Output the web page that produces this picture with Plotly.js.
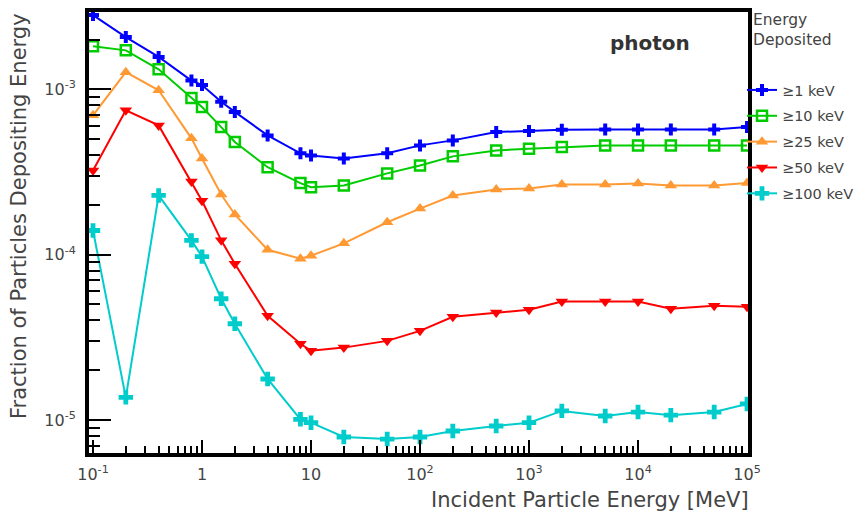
<!DOCTYPE html>
<html>
<head>
<meta charset="utf-8">
<script src="https://cdn.plot.ly/plotly-3.0.1.min.js"></script>
<style>html,body{margin:0;padding:0;background:#fff;}#chart{width:858px;height:515px;}</style>
</head>
<body>
<div id="chart"></div>
<script>
// Incident photon energy [MeV]
const energies = [0.1, 0.2, 0.4, 0.8, 1, 1.5, 2, 4, 8, 10, 20, 50, 100, 200, 500, 1000, 2000, 5000, 10000, 20000, 50000, 100000];
// Fraction of particles depositing energy above threshold
const dep1keV   = [2.81e-3, 2.07e-3, 1.57e-3, 1.13e-3, 1.06e-3, 8.4e-4, 7.3e-4, 5.26e-4, 4.10e-4, 3.98e-4, 3.82e-4, 4.11e-4, 4.58e-4, 4.91e-4, 5.51e-4, 5.59e-4, 5.70e-4, 5.72e-4, 5.72e-4, 5.72e-4, 5.72e-4, 5.91e-4];
const dep10keV  = [1.82e-3, 1.72e-3, 1.32e-3, 8.85e-4, 7.81e-4, 5.91e-4, 4.80e-4, 3.38e-4, 2.71e-4, 2.56e-4, 2.62e-4, 3.10e-4, 3.46e-4, 3.93e-4, 4.27e-4, 4.37e-4, 4.47e-4, 4.58e-4, 4.58e-4, 4.58e-4, 4.58e-4, 4.58e-4];
const dep25keV  = [6.96e-4, 1.27e-3, 9.86e-4, 5.05e-4, 3.82e-4, 2.31e-4, 1.75e-4, 1.07e-4, 9.46e-5, 9.86e-5, 1.17e-4, 1.57e-4, 1.90e-4, 2.28e-4, 2.48e-4, 2.51e-4, 2.66e-4, 2.66e-4, 2.69e-4, 2.62e-4, 2.62e-4, 2.71e-4];
const dep50keV  = [3.23e-4, 7.46e-4, 6.05e-4, 2.77e-4, 2.12e-4, 1.22e-4, 8.82e-5, 4.27e-5, 2.89e-5, 2.62e-5, 2.74e-5, 3.01e-5, 3.46e-5, 4.21e-5, 4.47e-5, 4.64e-5, 5.21e-5, 5.21e-5, 5.21e-5, 4.71e-5, 4.91e-5, 4.84e-5];
const dep100keV = [1.40e-4, 1.37e-5, 2.28e-4, 1.22e-4, 9.73e-5, 5.41e-5, 3.82e-5, 1.77e-5, 1.01e-5, 9.63e-6, 7.89e-6, 7.67e-6, 7.89e-6, 8.58e-6, 9.2e-6, 9.63e-6, 1.135e-5, 1.057e-5, 1.117e-5, 1.07e-5, 1.117e-5, 1.25e-5];

const seriesNames = ["\u22651 keV", "\u226510 keV", "\u226525 keV", "\u226550 keV", "\u2265100 keV"];

const xTickVals = [0.1, 1, 10, 100, 1000, 10000, 100000];
const xTickText = ["10<sup>-1</sup>", "1", "10", "10<sup>2</sup>", "10<sup>3</sup>", "10<sup>4</sup>", "10<sup>5</sup>"];
const yTickVals = [1e-5, 1e-4, 1e-3];
const yTickText = ["10<sup>-5</sup>", "10<sup>-4</sup>", "10<sup>-3</sup>"];

// minor tick positions (2..9 in each decade)
function minorTicks(e0, e1) {
  const out = [];
  for (let e = e0; e <= e1; e++) for (let m = 2; m <= 9; m++) out.push(m * Math.pow(10, e));
  return out;
}

const styles = [
  {color: "#0000ff", symbol: "cross", size: 10},
  {color: "#00cc00", symbol: "square-open", size: 10},
  {color: "#ff9933", symbol: "triangle-up", size: 11},
  {color: "#ff0000", symbol: "triangle-down", size: 11},
  {color: "#00cccc", symbol: "cross", size: 12}
];
const ys = [dep1keV, dep10keV, dep25keV, dep50keV, dep100keV];

const traces = ys.map((y, i) => ({
  type: "scatter",
  mode: "lines+markers",
  x: energies,
  y: y,
  name: seriesNames[i],
  legendgroup: "g" + i,
  line: {color: styles[i].color, width: 2},
  marker: {
    color: styles[i].color,
    symbol: styles[i].symbol,
    size: styles[i].size,
    line: {color: styles[i].color, width: styles[i].symbol === "square-open" ? 2.5 : 0}
  }
}));

const font = {family: "DejaVu Sans, Arial, sans-serif", color: "#444"};
const W = 858, H = 515;
const L = 89, R = 748, T = 12, B = 453;
const px = v => (v - L) / (R - L);
const py = v => (B - v) / (B - T);

const layout = {
  width: W, height: H,
  margin: {l: L, r: W - R, t: T, b: H - B, pad: 0, autoexpand: false},
  paper_bgcolor: "#fff",
  plot_bgcolor: "#fff",
  font: Object.assign({size: 16}, font),
  showlegend: true,
  legend: {
    xref: "container", yref: "container",
    x: 742 / W, xanchor: "left",
    y: 1 - 74 / H, yanchor: "top",
    bgcolor: "rgba(0,0,0,0)",
    font: Object.assign({size: 14.5}, font),
    tracegroupgap: 4,
    traceorder: "grouped",
    itemwidth: 30
  },
  xaxis: {
    type: "log",
    range: [-1.0367, 5.009],
    showgrid: false, zeroline: false,
    showline: true, linecolor: "#000", linewidth: 4, mirror: true,
    ticks: "inside", ticklen: 13, tickwidth: 2, tickcolor: "#000",
    tickmode: "array", tickvals: xTickVals, ticktext: xTickText,
    tickfont: Object.assign({size: 16}, font),
    ticklabelstandoff: 4,
    minor: {tickmode: "array", tickvals: minorTicks(-1, 4), ticks: "inside", ticklen: 7, tickwidth: 2, tickcolor: "#000", showgrid: false}
  },
  yaxis: {
    type: "log",
    range: [-5.1996, -2.5325],
    showgrid: false, zeroline: false,
    showline: true, linecolor: "#000", linewidth: 4, mirror: true,
    ticks: "inside", ticklen: 22, tickwidth: 2, tickcolor: "#000",
    tickmode: "array", tickvals: yTickVals, ticktext: yTickText,
    tickfont: Object.assign({size: 16}, font),
    ticklabelstandoff: 6,
    minor: {tickmode: "array", tickvals: minorTicks(-6, -3), ticks: "inside", ticklen: 11, tickwidth: 2, tickcolor: "#000", showgrid: false}
  },
  annotations: [
    {text: "Incident Particle Energy [MeV]", xref: "paper", yref: "paper", x: px(751), y: py(500), xanchor: "right", yanchor: "middle", showarrow: false, font: Object.assign({size: 21}, font)},
    {text: "Fraction of Particles Depositing Energy", xref: "paper", yref: "paper", x: px(19), y: py(11), xanchor: "center", yanchor: "top", textangle: -90, showarrow: false, font: Object.assign({size: 21}, font)},
    {text: "<b>photon</b>", xref: "paper", yref: "paper", x: px(650), y: py(43), xanchor: "center", yanchor: "middle", showarrow: false, font: Object.assign({size: 20}, font, {color: "#333"})},
    {text: "Energy<br>Deposited", xref: "paper", yref: "paper", x: px(751), y: py(9), xanchor: "left", yanchor: "top", align: "left", showarrow: false, font: Object.assign({size: 15.5}, font)}
  ]
};

Plotly.newPlot("chart", traces, layout, {displayModeBar: false, staticPlot: true});
</script>
</body>
</html>
